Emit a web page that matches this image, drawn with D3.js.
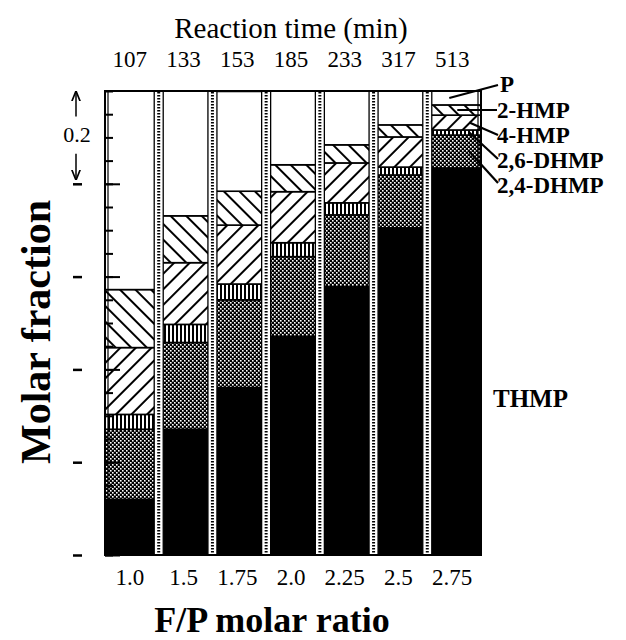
<!DOCTYPE html>
<html><head><meta charset="utf-8">
<script src="https://cdn.jsdelivr.net/npm/d3@7"></script>
<style>body{margin:0;background:#fff}svg{display:block}</style>
</head><body>
<script>
const ratios = ["1.0","1.5","1.75","2.0","2.25","2.5","2.75"];
const times = ["107","133","153","185","233","317","513"];
const seriesNames = ["THMP","2,4-DHMP","2,6-DHMP","4-HMP","2-HMP","P"];
const THMP   = [0.120,0.271,0.361,0.471,0.578,0.705,0.834];
const DHMP24 = [0.151,0.187,0.189,0.172,0.155,0.114,0.071];
const DHMP26 = [0.032,0.039,0.034,0.030,0.026,0.017,0.011];
const HMP4   = [0.144,0.133,0.127,0.110,0.086,0.065,0.032];
const HMP2   = [0.125,0.101,0.073,0.058,0.039,0.026,0.022];
const P      = [0.428,0.269,0.215,0.159,0.116,0.073,0.030];
const minorTicks = d3.range(0, 1.0001, 0.05);
const majorTicks = [0, 0.2, 0.4, 0.6, 0.8];

const W = 626, H = 640;
const svg = d3.select("body").append("svg").attr("width", W).attr("height", H);
const defs = svg.append("defs");

// patterns
const pStip = defs.append("pattern").attr("id","stip").attr("patternUnits","userSpaceOnUse").attr("width",4).attr("height",4);
pStip.append("rect").attr("width",4).attr("height",4).attr("fill","#000");
pStip.append("rect").attr("x",0).attr("y",0).attr("width",1.6).attr("height",1.6).attr("fill","#fff");
pStip.append("rect").attr("x",2).attr("y",2).attr("width",1.6).attr("height",1.6).attr("fill","#fff");
const pVert = defs.append("pattern").attr("id","vert").attr("patternUnits","userSpaceOnUse").attr("width",4).attr("height",10);
pVert.append("rect").attr("width",4).attr("height",10).attr("fill","#fff");
pVert.append("rect").attr("x",0).attr("width",2).attr("height",10).attr("fill","#000");
const pFwd = defs.append("pattern").attr("id","fwd").attr("patternUnits","userSpaceOnUse").attr("width",11).attr("height",11).attr("patternTransform","rotate(45)");
pFwd.append("rect").attr("width",11).attr("height",11).attr("fill","#fff");
pFwd.append("rect").attr("x",0).attr("width",2).attr("height",11).attr("fill","#000");
const pBack = defs.append("pattern").attr("id","back").attr("patternUnits","userSpaceOnUse").attr("width",11).attr("height",11).attr("patternTransform","rotate(-45)");
pBack.append("rect").attr("width",11).attr("height",11).attr("fill","#fff");
pBack.append("rect").attr("x",0).attr("width",2).attr("height",11).attr("fill","#000");
const fills = {"THMP":"#000","2,4-DHMP":"url(#stip)","2,6-DHMP":"url(#vert)","4-HMP":"url(#fwd)","2-HMP":"url(#back)","P":"#fff"};

const x = d3.scaleBand().domain(ratios).range([105, 481]).padding(0);
const y = d3.scaleLinear().domain([0, 1]).range([555, 91]);

const table = ratios.map((r, i) => ({ratio: r, "THMP": THMP[i], "2,4-DHMP": DHMP24[i], "2,6-DHMP": DHMP26[i], "4-HMP": HMP4[i], "2-HMP": HMP2[i], "P": P[i]}));
const stacked = d3.stack().keys(seriesNames)(table);

const serif = "'Liberation Serif','Times New Roman','DejaVu Serif',serif";

svg.append("g").selectAll("g").data(stacked).join("g")
  .attr("fill", d => fills[d.key])
  .selectAll("rect").data(d => d).join("rect")
  .attr("x", d => x(d.data.ratio))
  .attr("width", x.bandwidth())
  .attr("y", d => y(d[1]))
  .attr("height", d => y(d[0]) - y(d[1]))
  .attr("stroke", "#000").attr("stroke-width", 1.6);

// dividers (ladder strips)
const inner = ratios.slice(1);
const divG = svg.append("g");
inner.forEach(r => {
  const xc = x(r);
  divG.append("rect").attr("x", xc - 4.5).attr("y", y(1)).attr("width", 9).attr("height", y(0) - y(1))
    .attr("fill", "#fff").attr("stroke", "#000").attr("stroke-width", 1.3);
  divG.append("line").attr("x1", xc).attr("x2", xc).attr("y1", y(1) + 1).attr("y2", y(0) - 1)
    .attr("stroke", "#000").attr("stroke-width", 3).attr("stroke-dasharray", "1.5,1.5");
});

// frame
svg.append("rect").attr("x", x.range()[0]).attr("y", y(1)).attr("width", x.range()[1] - x.range()[0]).attr("height", y(0) - y(1))
  .attr("fill", "none").attr("stroke", "#000").attr("stroke-width", 2);
svg.append("line").attr("x1", x.range()[0] + 3).attr("x2", x.range()[0] + 3).attr("y1", y(1)).attr("y2", y(0)).attr("stroke", "#000").attr("stroke-width", 1.2);
svg.append("line").attr("x1", x.range()[1] - 3).attr("x2", x.range()[1] - 3).attr("y1", y(1)).attr("y2", y(0)).attr("stroke", "#000").attr("stroke-width", 1.2);

// inner ticks on left axis
const yMinor = d3.axisRight(y).tickValues(minorTicks).tickSize(8).tickFormat("");
const gMin = svg.append("g").attr("transform", `translate(${x.range()[0]},0)`).call(yMinor);
gMin.select(".domain").remove();
gMin.selectAll(".tick line").attr("stroke", "#000").attr("stroke-width", 2);
const yMajor = d3.axisRight(y).tickValues(majorTicks).tickSize(15).tickFormat("");
const gMaj = svg.append("g").attr("transform", `translate(${x.range()[0]},0)`).call(yMajor);
gMaj.select(".domain").remove();
gMaj.selectAll(".tick line").attr("stroke", "#000").attr("stroke-width", 2);

// outside dashes
const yOut = d3.axisLeft(y).tickValues(majorTicks).tickSize(9).tickFormat("");
const gOut = svg.append("g").attr("transform", `translate(82,0)`).call(yOut);
gOut.select(".domain").remove();
gOut.selectAll(".tick line").attr("stroke", "#000").attr("stroke-width", 2.5);

// 0.2 scale annotation
defs.append("marker").attr("id","arr").attr("viewBox","0 0 10 10").attr("refX",9).attr("refY",5)
  .attr("markerWidth",7).attr("markerHeight",7).attr("orient","auto-start-reverse")
  .append("path").attr("d","M0,1 L10,5 L0,9").attr("fill","none").attr("stroke","#000").attr("stroke-width",1.6);
svg.append("line").attr("x1",76).attr("x2",76).attr("y1",y(0.945)).attr("y2",y(1)+1).attr("stroke","#000").attr("stroke-width",1.5).attr("marker-end","url(#arr)");
svg.append("line").attr("x1",76).attr("x2",76).attr("y1",y(0.865)).attr("y2",y(0.81)).attr("stroke","#000").attr("stroke-width",1.5).attr("marker-end","url(#arr)");
svg.append("text").attr("x",77).attr("y",y(0.905)+7).attr("text-anchor","middle").attr("font-family",serif).attr("font-size",22).text("0.2");

// x labels
svg.append("g").selectAll("text").data(ratios).join("text")
  .attr("x", d => x(d) + x.bandwidth() / 2 - 2).attr("y", 585)
  .attr("text-anchor", "middle").attr("font-family", serif).attr("font-size", 23).text(d => d);
// top times
svg.append("g").selectAll("text").data(times).join("text")
  .attr("x", (d, i) => x(ratios[i]) + x.bandwidth() / 2 - 2).attr("y", 67)
  .attr("text-anchor", "middle").attr("font-family", serif).attr("font-size", 23).text(d => d);

svg.append("text").attr("x", 291).attr("y", 38).attr("text-anchor", "middle").attr("font-family", serif).attr("font-size", 29).text("Reaction time (min)");
svg.append("text").attr("x", 272).attr("y", 632).attr("text-anchor", "middle").attr("font-family", serif).attr("font-weight", "bold").attr("font-size", 36).text("F/P molar ratio");
svg.append("text").attr("transform", "translate(50,332) rotate(-90)").attr("text-anchor", "middle").attr("font-family", serif).attr("font-weight", "bold").attr("font-size", 42).text("Molar fraction");

// right labels with leaders
const lastIdx = ratios.length - 1;
const labelPos = [
  {key: "P", lx: 500, ly: 92, ex: 498, ey: 85},
  {key: "2-HMP", lx: 497, ly: 118, ex: 497, ey: 110},
  {key: "4-HMP", lx: 497, ly: 143, ex: 498, ey: 135},
  {key: "2,6-DHMP", lx: 497, ly: 168, ex: 498, ey: 159},
  {key: "2,4-DHMP", lx: 497, ly: 193, ex: 498, ey: 183}
];
const lastX = x(ratios[lastIdx]);
labelPos.forEach(lp => {
  const s = stacked.find(s => s.key === lp.key)[lastIdx];
  const sy = (y(s[0]) + y(s[1])) / 2;
  const sx = lp.key === "P" ? lastX + 22 : (lp.key === "2-HMP" ? lastX + 30 : lastX + 42);
  svg.append("line").attr("x1", sx).attr("y1", sy).attr("x2", lp.ex).attr("y2", lp.ey).attr("stroke", "#000").attr("stroke-width", 2.2);
  svg.append("text").attr("x", lp.lx).attr("y", lp.ly).attr("font-family", serif).attr("font-weight", "bold").attr("font-size", 23).text(lp.key);
});
svg.append("text").attr("x", 493).attr("y", 407).attr("font-family", serif).attr("font-weight", "bold").attr("font-size", 25).text("THMP");
</script>
</body></html>
